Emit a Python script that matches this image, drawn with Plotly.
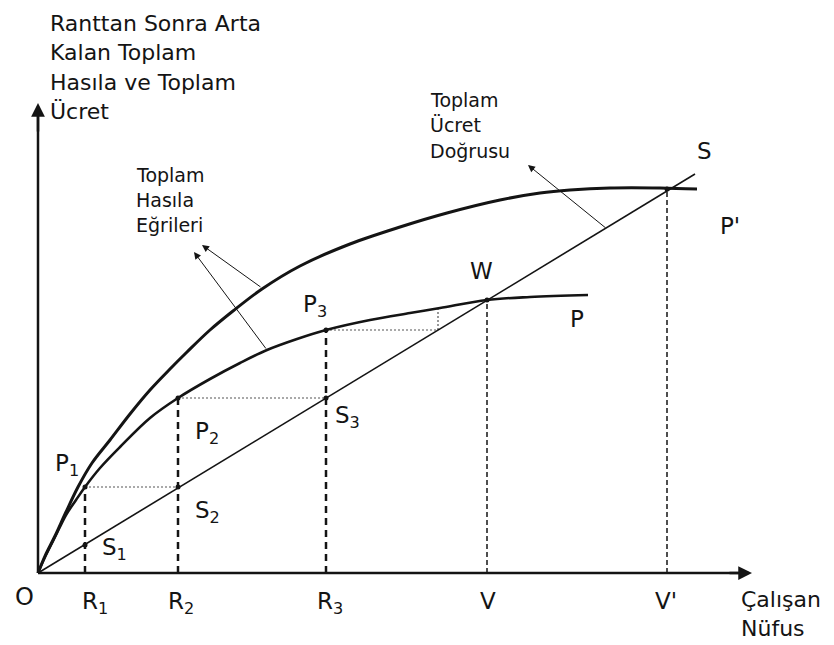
import plotly.graph_objects as go

# diagram units: origin O = (0, 0), one unit ~ one pixel of the original drawing
upper_x = [0, 7, 17, 28, 40, 54, 72, 92, 112, 132, 149, 172, 195, 224, 262, 312, 362, 409, 462, 502, 532, 572, 622, 659]
upper_y = [0, 17, 37, 61, 86, 110, 133, 159, 183, 204, 221, 243, 262, 284, 307, 329, 346, 360, 373, 380, 383, 385, 385, 384]

lower_x = [0, 8, 18, 28, 38, 47, 62, 82, 112, 140, 172, 202, 229, 259, 288, 332, 372, 402, 449, 492, 550]
lower_y = [0, 18, 38, 58, 73, 86, 105, 126, 155, 175, 194, 210, 223, 234, 243, 253, 260, 265, 273, 276, 278]

wage_x = [0, 657]
wage_y = [0, 399]

r_x = [47, 140, 288]          # R1, R2, R3
p_y = [86, 175, 243]          # P1, P2, P3 on the lower curve
s_y = [28, 86, 175]           # S1, S2, S3 on the wage line
v_x = [449, 629]              # V, V'
v_y = [273, 384]              # W, S

dotted_x = [47, 140, None, 140, 288, None, 288, 400, 400]
dotted_y = [86, 86, None, 175, 175, None, 243, 243, 265]

INK = "#141414"
FONT = "DejaVu Sans"

fig = go.Figure()

# axes
fig.add_trace(go.Scatter(x=[0, 0, None, 0, 708], y=[462, 0, None, 0, 0], mode="lines",
                         line=dict(color=INK, width=2.5), hoverinfo="skip"))

# dashed verticals
for x, y in zip(r_x, p_y):
    fig.add_trace(go.Scatter(x=[x, x], y=[0, y], mode="lines",
                             line=dict(color=INK, width=2.5, dash="7px,5px"), hoverinfo="skip"))
for x, y in zip(v_x, v_y):
    fig.add_trace(go.Scatter(x=[x, x], y=[0, y], mode="lines",
                             line=dict(color=INK, width=1.5, dash="5px,3px"), hoverinfo="skip"))

# dotted helpers
fig.add_trace(go.Scatter(x=dotted_x, y=dotted_y, mode="lines",
                         line=dict(color="#555", width=1.2, dash="2px,2px"), hoverinfo="skip"))

# wage line
fig.add_trace(go.Scatter(x=wage_x, y=wage_y, mode="lines",
                         line=dict(color=INK, width=1.6), hoverinfo="skip"))

# total product curves
fig.add_trace(go.Scatter(x=upper_x, y=upper_y, mode="lines", line_shape="spline",
                         line=dict(color=INK, width=3), hoverinfo="skip"))
fig.add_trace(go.Scatter(x=lower_x, y=lower_y, mode="lines", line_shape="spline",
                         line=dict(color=INK, width=2.6), hoverinfo="skip"))

# points
fig.add_trace(go.Scatter(x=r_x + r_x + v_x, y=p_y + s_y + v_y, mode="markers",
                         marker=dict(color=INK, size=5), hoverinfo="skip"))


def arrow(x0, y0, x1, y1, width=1.0, head=2, size=1.4):
    fig.add_annotation(x=x1, y=y1, ax=x0, ay=y0, xref="x", yref="y", axref="x", ayref="y",
                       text="", showarrow=True, arrowhead=head, arrowsize=size,
                       arrowwidth=width, arrowcolor=INK)


arrow(0, 440, 0, 470, width=2.5, head=2, size=1.1)
arrow(690, 0, 714, 0, width=2.5, head=2, size=1.1)
arrow(224, 285, 164, 328)
arrow(229, 223, 156, 321)
arrow(569, 344, 490, 408)


def label(text, x, y, size=23):
    fig.add_annotation(x=x, y=y, xref="x", yref="y", text=text, showarrow=False,
                       xanchor="left", yanchor="middle", borderpad=0,
                       font=dict(family=FONT, size=size, color=INK))


for i, line in enumerate(["Ranttan Sonra Arta", "Kalan Toplam", "Hasıla ve Toplam", "Ücret"]):
    label(line, 11, [550, 521, 491, 462][i], 22)
for i, line in enumerate(["Toplam", "Hasıla", "Eğrileri"]):
    label(line, 97, [398, 373, 348][i], 19)
for i, line in enumerate(["Toplam", "Ücret", "Doğrusu"]):
    label(line, 391, [473, 448, 422][i], 19)

label("O", -24, -24, 24)
label("R<sub>1</sub>", 43, -30)
label("R<sub>2</sub>", 129, -30)
label("R<sub>3</sub>", 278, -30)
label("V", 441, -28)
label("V'", 616, -28)
label("S<sub>1</sub>", 63, 24)
label("S<sub>2</sub>", 156, 61)
label("S<sub>3</sub>", 296, 156)
label("P<sub>1</sub>", 16, 108)
label("P<sub>2</sub>", 156, 140)
label("P<sub>3</sub>", 264, 267)
label("W", 431, 302)
label("P", 531, 254)
label("S", 658, 422)
label("P'", 681, 347)
label("Çalışan", 702, -26, 22)
label("Nüfus", 702, -55, 22)

# the page body adds an 8px offset, so the figure is 8px smaller on each axis
fig.update_layout(
    width=826,
    height=637,
    margin=dict(l=0, r=0, t=0, b=0),
    showlegend=False,
    paper_bgcolor="white",
    plot_bgcolor="white",
    xaxis=dict(range=[-30, 796], visible=False, fixedrange=True),
    yaxis=dict(range=[-72, 565], visible=False, fixedrange=True),
)

fig.write_html("out.html")
